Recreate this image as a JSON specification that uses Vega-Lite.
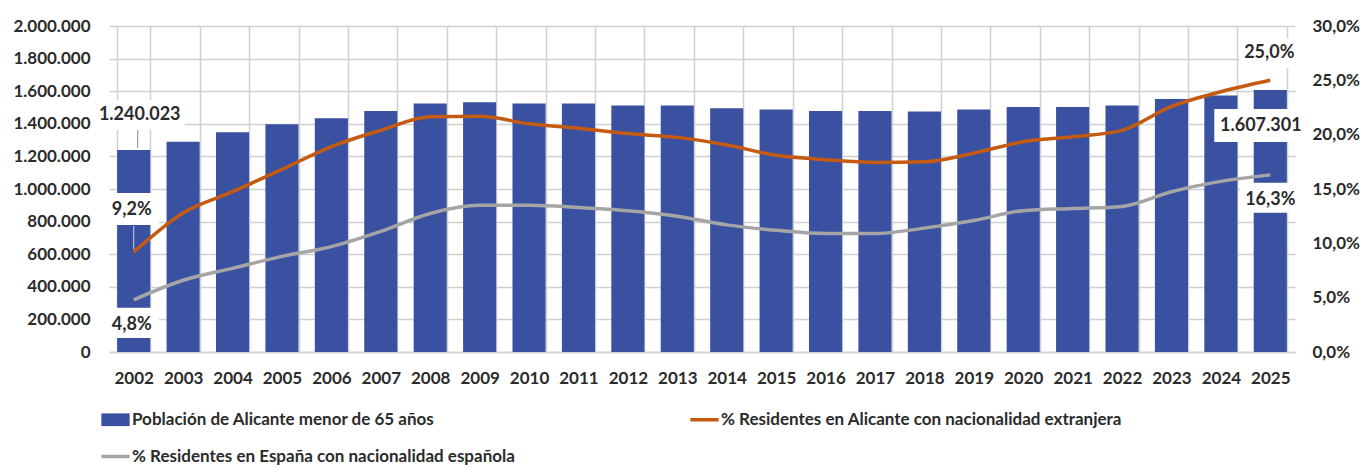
{
  "$schema": "https://vega.github.io/schema/vega-lite/v6.json",
  "width": 1186,
  "height": 326,
  "autosize": {"type": "none"},
  "padding": {"left": 109, "top": 26, "right": 72, "bottom": 116},
  "background": "white",
  "config": {
    "locale": {"number": {"decimal": ",", "thousands": ".", "grouping": [3], "currency": ["", " €"]}},
    "view": {"stroke": null},
    "font": "Lato",
    "axis": {"labelFont": "Lato", "labelFontWeight": "bold", "labelColor": "#2b2b2b", "labelFontSize": 17, "gridColor": "#d0d0d0", "gridWidth": 1.5, "labelOverlap": false},
    "legend": {
      "orient": "none", "legendX": -2, "legendY": 385, "direction": "horizontal", "columns": 2,
      "columnPadding": 168, "rowPadding": 19, "labelFont": "Lato", "labelFontWeight": "bold",
      "labelFontSize": 17, "labelColor": "#2b2b2b", "labelOffset": 8, "symbolSize": 800,
      "labelLimit": 0, "padding": 0
    }
  },
  "data": {"values": [
    {"year": "2002", "pop": 1240023, "ext": 0.092, "esp": 0.048},
    {"year": "2003", "pop": 1290000, "ext": 0.128, "esp": 0.066},
    {"year": "2004", "pop": 1348000, "ext": 0.1475, "esp": 0.077},
    {"year": "2005", "pop": 1397000, "ext": 0.168, "esp": 0.088},
    {"year": "2006", "pop": 1434000, "ext": 0.189, "esp": 0.097},
    {"year": "2007", "pop": 1479000, "ext": 0.204, "esp": 0.111},
    {"year": "2008", "pop": 1524000, "ext": 0.2165, "esp": 0.1275},
    {"year": "2009", "pop": 1532000, "ext": 0.217, "esp": 0.135},
    {"year": "2010", "pop": 1524000, "ext": 0.210, "esp": 0.135},
    {"year": "2011", "pop": 1524000, "ext": 0.206, "esp": 0.133},
    {"year": "2012", "pop": 1512000, "ext": 0.201, "esp": 0.130},
    {"year": "2013", "pop": 1512000, "ext": 0.1975, "esp": 0.125},
    {"year": "2014", "pop": 1495000, "ext": 0.1905, "esp": 0.117},
    {"year": "2015", "pop": 1487000, "ext": 0.181, "esp": 0.112},
    {"year": "2016", "pop": 1479000, "ext": 0.177, "esp": 0.109},
    {"year": "2017", "pop": 1479000, "ext": 0.1745, "esp": 0.109},
    {"year": "2018", "pop": 1475000, "ext": 0.175, "esp": 0.114},
    {"year": "2019", "pop": 1487000, "ext": 0.183, "esp": 0.121},
    {"year": "2020", "pop": 1503000, "ext": 0.1935, "esp": 0.130},
    {"year": "2021", "pop": 1503000, "ext": 0.198, "esp": 0.132},
    {"year": "2022", "pop": 1512000, "ext": 0.204, "esp": 0.134},
    {"year": "2023", "pop": 1552000, "ext": 0.226, "esp": 0.1475},
    {"year": "2024", "pop": 1573000, "ext": 0.2395, "esp": 0.157},
    {"year": "2025", "pop": 1607301, "ext": 0.250, "esp": 0.163}
  ]},
  "layer": [
    {
      "layer": [
        {
          "mark": {"type": "bar"},
          "encoding": {
            "x": {"field": "year", "type": "ordinal", "sort": null,
              "scale": {"paddingInner": 0.33, "paddingOuter": 0.165},
              "axis": {"title": null, "labelAngle": 0, "grid": true, "tickBand": "extent", "ticks": false,
                "domain": true, "domainColor": "#d0d0d0", "domainWidth": 1.5, "labelPadding": 18, "labelFontSize": 17}},
            "y": {"field": "pop", "type": "quantitative",
              "scale": {"domain": [0, 2000000], "nice": false, "zero": true},
              "axis": {"orient": "left", "title": null, "values": [0, 200000, 400000, 600000, 800000, 1000000, 1200000, 1400000, 1600000, 1800000, 2000000],
                "format": ",d", "grid": true, "domain": false, "ticks": false, "labelPadding": 19, "labelOverlap": false, "labelBound": false, "labelFlush": false}},
            "color": {"datum": "Población de Alicante menor de 65 años", "type": "nominal",
              "scale": {"domain": ["Población de Alicante menor de 65 años", "% Residentes en Alicante con nacionalidad extranjera", "% Residentes en España con nacionalidad española"],
                "range": ["#3A51A2", "#C55A11", "#A5A5A5"]},
              "legend": {
                "title": null,
                "encode": {"symbols": {"update": {
                  "shape": {"signal": "datum.value === 'Población de Alicante menor de 65 años' ? 'M-1,-0.45H1V0.45H-1Z' : 'M-1,0H1'"},
                  "fill": {"signal": "datum.value === 'Población de Alicante menor de 65 años' ? '#3A51A2' : 'transparent'"},
                  "stroke": {"signal": "datum.value === 'Población de Alicante menor de 65 años' ? 'transparent' : (datum.value === '% Residentes en Alicante con nacionalidad extranjera' ? '#C55A11' : '#A5A5A5')"},
                  "strokeWidth": {"signal": "datum.value === 'Población de Alicante menor de 65 años' ? 0 : 3.5"},
                  "opacity": {"value": 1}
                }}}
              }}
          }
        },
        {
          "transform": [{"filter": "datum.year == '2002'"}],
          "mark": {"type": "rule", "color": "#8a8a8a", "strokeWidth": 1, "yOffset": -2, "y2Offset": -20, "xOffset": 4},
          "encoding": {
            "x": {"field": "year", "type": "ordinal", "sort": null},
            "y": {"field": "pop", "type": "quantitative",
              "axis": {"orient": "left", "title": null, "values": [0, 200000, 400000, 600000, 800000, 1000000, 1200000, 1400000, 1600000, 1800000, 2000000],
                "format": ",d", "grid": true, "domain": false, "ticks": false, "labelPadding": 19, "labelOverlap": false, "labelBound": false, "labelFlush": false}},
            "y2": {"field": "pop"}
          }
        },
        {
          "transform": [{"filter": "datum.year == '2002'"}],
          "mark": {"type": "point", "shape": "M-1,-0.33H1V0.33H-1Z", "filled": true, "color": "white", "opacity": 1, "size": 8100, "strokeWidth": 0, "xOffset": 6, "yOffset": -35},
          "encoding": {
            "x": {"field": "year", "type": "ordinal", "sort": null},
            "y": {"field": "pop", "type": "quantitative",
              "axis": {"orient": "left", "title": null, "values": [0, 200000, 400000, 600000, 800000, 1000000, 1200000, 1400000, 1600000, 1800000, 2000000],
                "format": ",d", "grid": true, "domain": false, "ticks": false, "labelPadding": 19, "labelOverlap": false, "labelBound": false, "labelFlush": false}}
          }
        },
        {
          "transform": [{"filter": "datum.year == '2002'"}],
          "mark": {"type": "text", "dx": 6, "dy": -35, "font": "Lato", "fontSize": 18, "fontWeight": "bold", "color": "#2b2b2b"},
          "encoding": {
            "x": {"field": "year", "type": "ordinal", "sort": null},
            "y": {"field": "pop", "type": "quantitative",
              "axis": {"orient": "left", "title": null, "values": [0, 200000, 400000, 600000, 800000, 1000000, 1200000, 1400000, 1600000, 1800000, 2000000],
                "format": ",d", "grid": true, "domain": false, "ticks": false, "labelPadding": 19, "labelOverlap": false, "labelBound": false, "labelFlush": false}},
            "text": {"field": "pop", "type": "quantitative", "format": ",d"}
          }
        },
        {
          "transform": [{"filter": "datum.year == '2025'"}],
          "mark": {"type": "point", "shape": "M-1,-0.375H1V0.375H-1Z", "filled": true, "color": "white", "opacity": 1, "size": 7744, "strokeWidth": 0, "xOffset": -12, "yOffset": 35.5},
          "encoding": {
            "x": {"field": "year", "type": "ordinal", "sort": null},
            "y": {"field": "pop", "type": "quantitative",
              "axis": {"orient": "left", "title": null, "values": [0, 200000, 400000, 600000, 800000, 1000000, 1200000, 1400000, 1600000, 1800000, 2000000],
                "format": ",d", "grid": true, "domain": false, "ticks": false, "labelPadding": 19, "labelOverlap": false, "labelBound": false, "labelFlush": false}}
          }
        },
        {
          "transform": [{"filter": "datum.year == '2025'"}],
          "mark": {"type": "text", "dx": -9.5, "dy": 36, "font": "Lato", "fontSize": 18, "fontWeight": "bold", "color": "#2b2b2b"},
          "encoding": {
            "x": {"field": "year", "type": "ordinal", "sort": null},
            "y": {"field": "pop", "type": "quantitative",
              "axis": {"orient": "left", "title": null, "values": [0, 200000, 400000, 600000, 800000, 1000000, 1200000, 1400000, 1600000, 1800000, 2000000],
                "format": ",d", "grid": true, "domain": false, "ticks": false, "labelPadding": 19, "labelOverlap": false, "labelBound": false, "labelFlush": false}},
            "text": {"field": "pop", "type": "quantitative", "format": ",d"}
          }
        }
      ]
    },
    {
      "layer": [
        {
          "mark": {"type": "line", "interpolate": "monotone", "strokeWidth": 3.5},
          "encoding": {
            "x": {"field": "year", "type": "ordinal", "sort": null},
            "y": {"field": "ext", "type": "quantitative",
              "scale": {"domain": [0, 0.3], "nice": false, "zero": true},
              "axis": {"orient": "right", "title": null, "values": [0, 0.05, 0.1, 0.15, 0.2, 0.25, 0.3], "format": ".1%",
                "grid": false, "domain": false, "ticks": false, "labelPadding": 17, "labelOverlap": false}},
            "color": {"datum": "% Residentes en Alicante con nacionalidad extranjera", "type": "nominal"}
          }
        },
        {
          "mark": {"type": "line", "interpolate": "monotone", "strokeWidth": 3.5},
          "encoding": {
            "x": {"field": "year", "type": "ordinal", "sort": null},
            "y": {"field": "esp", "type": "quantitative", "title": null},
            "color": {"datum": "% Residentes en España con nacionalidad española", "type": "nominal"}
          }
        },
        {
          "transform": [{"filter": "datum.year == '2002'"}],
          "mark": {"type": "rule", "color": "#c9d0e4", "strokeWidth": 1, "yOffset": -3, "y2Offset": -26},
          "encoding": {
            "x": {"field": "year", "type": "ordinal", "sort": null},
            "y": {"field": "ext", "type": "quantitative", "title": null},
            "y2": {"field": "ext"}
          }
        },
        {
          "transform": [{"filter": "datum.year == '2002'"}],
          "mark": {"type": "point", "shape": "M-1,-0.58H1V0.58H-1Z", "filled": true, "color": "white", "opacity": 1, "size": 3025, "strokeWidth": 0, "xOffset": -2, "yOffset": -43},
          "encoding": {
            "x": {"field": "year", "type": "ordinal", "sort": null},
            "y": {"field": "ext", "type": "quantitative", "title": null}
          }
        },
        {
          "transform": [{"filter": "datum.year == '2002'"}],
          "mark": {"type": "text", "dx": -2, "dy": -42, "font": "Lato", "fontSize": 18, "fontWeight": "bold", "color": "#2b2b2b"},
          "encoding": {
            "x": {"field": "year", "type": "ordinal", "sort": null},
            "y": {"field": "ext", "type": "quantitative", "title": null},
            "text": {"field": "ext", "type": "quantitative", "format": ".1%"}
          }
        },
        {
          "transform": [{"filter": "datum.year == '2002'"}],
          "mark": {"type": "point", "shape": "M-1,-0.55H1V0.55H-1Z", "filled": true, "color": "white", "opacity": 1, "size": 3025, "strokeWidth": 0, "xOffset": -2, "yOffset": 23},
          "encoding": {
            "x": {"field": "year", "type": "ordinal", "sort": null},
            "y": {"field": "esp", "type": "quantitative", "title": null}
          }
        },
        {
          "transform": [{"filter": "datum.year == '2002'"}],
          "mark": {"type": "text", "dx": -2, "dy": 25, "font": "Lato", "fontSize": 18, "fontWeight": "bold", "color": "#2b2b2b"},
          "encoding": {
            "x": {"field": "year", "type": "ordinal", "sort": null},
            "y": {"field": "esp", "type": "quantitative", "title": null},
            "text": {"field": "esp", "type": "quantitative", "format": ".1%"}
          }
        },
        {
          "transform": [{"filter": "datum.year == '2025'"}],
          "mark": {"type": "point", "shape": "M-1,-0.5H1V0.5H-1Z", "filled": true, "color": "white", "opacity": 1, "size": 3600, "strokeWidth": 0, "xOffset": -1, "yOffset": -27},
          "encoding": {
            "x": {"field": "year", "type": "ordinal", "sort": null},
            "y": {"field": "ext", "type": "quantitative", "title": null}
          }
        },
        {
          "transform": [{"filter": "datum.year == '2025'"}],
          "mark": {"type": "text", "dx": -1, "dy": -27, "font": "Lato", "fontSize": 18, "fontWeight": "bold", "color": "#2b2b2b"},
          "encoding": {
            "x": {"field": "year", "type": "ordinal", "sort": null},
            "y": {"field": "ext", "type": "quantitative", "title": null},
            "text": {"field": "ext", "type": "quantitative", "format": ".1%"}
          }
        },
        {
          "transform": [{"filter": "datum.year == '2025'"}],
          "mark": {"type": "point", "shape": "M-1,-0.5H1V0.5H-1Z", "filled": true, "color": "white", "opacity": 1, "size": 3600, "strokeWidth": 0, "xOffset": 0, "yOffset": 23},
          "encoding": {
            "x": {"field": "year", "type": "ordinal", "sort": null},
            "y": {"field": "esp", "type": "quantitative", "title": null}
          }
        },
        {
          "transform": [{"filter": "datum.year == '2025'"}],
          "mark": {"type": "text", "dx": 0, "dy": 25, "font": "Lato", "fontSize": 18, "fontWeight": "bold", "color": "#2b2b2b"},
          "encoding": {
            "x": {"field": "year", "type": "ordinal", "sort": null},
            "y": {"field": "esp", "type": "quantitative", "title": null},
            "text": {"field": "esp", "type": "quantitative", "format": ".1%"}
          }
        }
      ]
    }
  ],
  "resolve": {"scale": {"y": "independent"}}
}
